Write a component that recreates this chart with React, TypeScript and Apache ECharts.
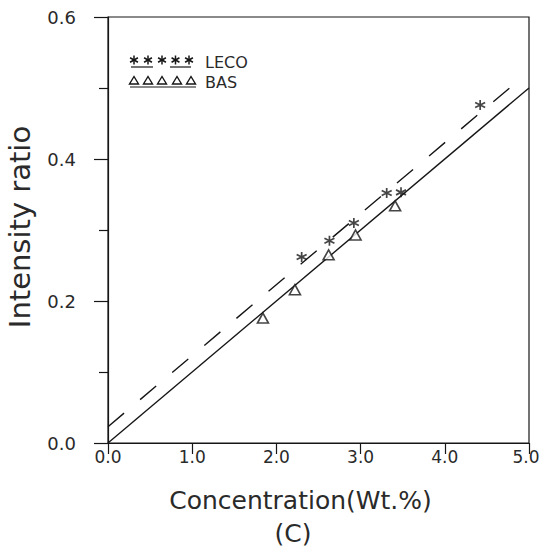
import React, { useEffect, useRef } from "react";
import * as echarts from "echarts";

// LECO standards (asterisks)
const lecoConc = [2.3, 2.63, 2.92, 3.31, 3.48, 4.42];
const lecoRatio = [0.262, 0.285, 0.31, 0.352, 0.353, 0.476];

// BAS standards (triangles)
const basConc = [1.84, 2.22, 2.62, 2.94, 3.41];
const basRatio = [0.176, 0.216, 0.265, 0.293, 0.334];

// Calibration lines (end points)
const lecoFitX = [0, 4.81];
const lecoFitY = [0.023, 0.504];
const basFitX = [0, 5.0];
const basFitY = [0, 0.5];

const xTicks = [0, 1, 2, 3, 4, 5];
const yTicks = [0, 0.2, 0.4, 0.6];

const INK = "#161616";
const TEXT = "#2a2a2a";
const FONT = "DejaVu Sans";

const pair = (xs: number[], ys: number[]) => xs.map((x, i) => [x, ys[i]]);

// asterisk drawn as three crossing strokes
const ASTERISK = "path://M5,0L5,10M0.67,2.5L9.33,7.5M0.67,7.5L9.33,2.5";

function legendGraphics() {
  const els: any[] = [];
  const starXs = [134, 148, 162, 175.5, 189];
  starXs.forEach((cx) => {
    const cy = 60;
    const r = 4.5;
    const s = { stroke: INK, lineWidth: 1.5 };
    els.push({ type: "line", shape: { x1: cx, y1: cy - r, x2: cx, y2: cy + r }, style: s });
    els.push({ type: "line", shape: { x1: cx - r * 0.87, y1: cy - r / 2, x2: cx + r * 0.87, y2: cy + r / 2 }, style: s });
    els.push({ type: "line", shape: { x1: cx - r * 0.87, y1: cy + r / 2, x2: cx + r * 0.87, y2: cy - r / 2 }, style: s });
  });
  els.push({ type: "line", shape: { x1: 131, y1: 67, x2: 153, y2: 67 }, style: { stroke: INK, lineWidth: 1.2 } });
  els.push({ type: "line", shape: { x1: 170, y1: 67, x2: 191, y2: 67 }, style: { stroke: INK, lineWidth: 1.2 } });

  const triXs = [134, 148, 162, 177, 191];
  triXs.forEach((cx) => {
    els.push({
      type: "polygon",
      shape: { points: [[cx, 76.5], [cx - 4.5, 84], [cx + 4.5, 84]] },
      style: { fill: "#fff", stroke: INK, lineWidth: 1.4 },
    });
  });
  els.push({ type: "line", shape: { x1: 130, y1: 87, x2: 196, y2: 87 }, style: { stroke: INK, lineWidth: 1.2 } });

  els.push({
    type: "text",
    x: 205,
    y: 62,
    style: { text: "LECO", font: `16px '${FONT}'`, fill: TEXT, verticalAlign: "middle" },
  });
  els.push({
    type: "text",
    x: 205,
    y: 82,
    style: { text: "BAS", font: `16px '${FONT}'`, fill: TEXT, verticalAlign: "middle" },
  });
  els.push({
    type: "text",
    x: 293,
    y: 533,
    style: { text: "(C)", font: `25px '${FONT}'`, fill: TEXT, align: "center", verticalAlign: "middle" },
  });
  return els;
}

export default function App() {
  const ref = useRef<HTMLDivElement>(null);

  useEffect(() => {
    if (!ref.current) return;
    const chart = echarts.init(ref.current, null, { renderer: "svg" });
    chart.setOption({
      animation: false,
      backgroundColor: "#fff",
      grid: {
        left: 108,
        right: 12,
        top: 17,
        bottom: 105,
        outerBoundsMode: "none",
        show: true,
        borderColor: INK,
        borderWidth: 1.2,
      },
      xAxis: {
        type: "value",
        min: 0,
        max: 5,
        interval: 1,
        name: "Concentration(Wt.%)",
        nameLocation: "middle",
        nameGap: 45,
        nameTextStyle: { fontFamily: FONT, fontSize: 25, color: TEXT, padding: [0, 36, 0, 0] },
        axisLine: { show: true, lineStyle: { color: INK, width: 1.2 } },
        axisTick: { show: true, inside: false, length: 11, lineStyle: { color: INK, width: 1.2 } },
        axisLabel: {
          margin: 5,
          fontFamily: FONT,
          fontSize: 17,
          color: TEXT,
          formatter: (v: number) => {
            if (!xTicks.includes(v)) return "";
            return v === 5 ? `{end|${v.toFixed(1)}}` : v.toFixed(1);
          },
          rich: {
            end: { fontFamily: FONT, fontSize: 17, color: TEXT, padding: [0, 6, 0, 0] },
          },
        },
        splitLine: { show: false },
      },
      yAxis: {
        type: "value",
        min: 0,
        max: 0.6,
        interval: 0.2,
        name: "Intensity ratio",
        nameLocation: "middle",
        nameGap: 74,
        nameTextStyle: { fontFamily: FONT, fontSize: 29, color: TEXT, padding: [0, 0, 0, 6] },
        axisLine: { show: true, lineStyle: { color: INK, width: 1.2 } },
        axisTick: { show: true, inside: false, length: 14, lineStyle: { color: INK, width: 1.2 } },
        minorTick: { show: true, splitNumber: 2, length: 9, lineStyle: { color: INK, width: 1.2 } },
        axisLabel: {
          margin: 32,
          fontFamily: FONT,
          fontSize: 18,
          color: TEXT,
          formatter: (v: number) => (yTicks.some((t) => Math.abs(t - v) < 1e-9) ? v.toFixed(1) : ""),
        },
        splitLine: { show: false },
        minorSplitLine: { show: false },
      },
      series: [
        {
          name: "LECO fit",
          type: "line",
          data: pair(lecoFitX, lecoFitY),
          showSymbol: false,
          lineStyle: { color: INK, width: 1.4, type: [21, 21] },
          z: 2,
        },
        {
          name: "BAS fit",
          type: "line",
          data: pair(basFitX, basFitY),
          showSymbol: false,
          lineStyle: { color: INK, width: 1.4, type: "solid" },
          z: 2,
        },
        {
          name: "LECO",
          type: "scatter",
          data: pair(lecoConc, lecoRatio),
          symbol: ASTERISK,
          symbolSize: 10,
          itemStyle: { color: "transparent", borderColor: INK, borderWidth: 1.7 },
          z: 3,
        },
        {
          name: "BAS",
          type: "scatter",
          data: pair(basConc, basRatio),
          symbol: "triangle",
          symbolSize: [11, 10],
          itemStyle: { color: "#fff", borderColor: INK, borderWidth: 1.6 },
          z: 3,
        },
      ],
      graphic: legendGraphics(),
    });
    return () => chart.dispose();
  }, []);

  return (
    <div
      ref={ref}
      style={{ position: "fixed", left: 0, top: 0, width: 541, height: 548, background: "#fff" }}
    />
  );
}
